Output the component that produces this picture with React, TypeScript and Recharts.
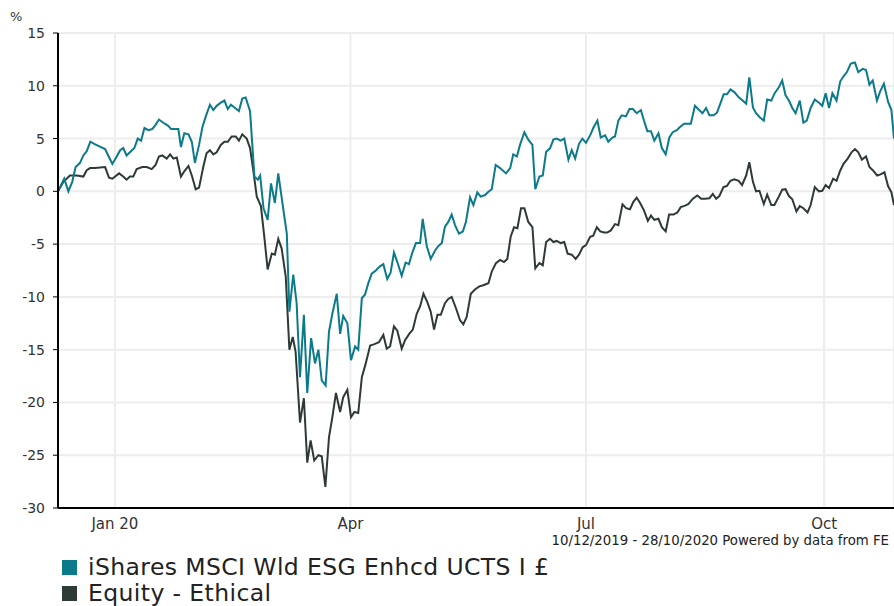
import React from "react";
import { LineChart, Line, XAxis, YAxis, CartesianGrid } from "recharts";

// days since 10/12/2019
const fundDays = [
  0, 2.4, 4.0, 5.5, 6.8, 8.5, 9.8, 11.1, 12.5, 14.0, 15.6, 18.2, 19.4, 21.0, 22.7, 24.0, 25.2, 26.5, 28.2, 29.5,
  30.8, 32.1, 33.4, 34.9, 36.4, 37.7, 39.0, 40.7, 42.6, 43.7, 45.5, 46.5, 47.5, 48.8, 50.4, 51.7, 52.9, 54.5, 55.8, 57.1,
  58.7, 60.0, 61.3, 62.9, 64.3, 65.6, 66.8, 68.4, 69.9, 71.2, 72.5, 74.2, 75.9, 77.2, 78.1, 79.4, 81.0, 82.3, 83.8, 85.1,
  86.7, 88.4, 89.4, 90.9, 92.2, 93.5, 95.0, 96.3, 97.8, 99.3, 100.6, 101.9, 103.4, 104.7, 106.0, 107.7, 109.0, 110.2, 111.8, 113.2,
  114.8, 116.0, 117.4, 118.6, 119.9, 121.2, 122.8, 124.4, 125.7, 127.2, 128.5, 129.8, 131.1, 132.8, 134.3, 135.6, 136.9, 138.3, 139.9, 140.9,
  142.5, 144.0, 145.7, 146.9, 148.3, 149.5, 150.8, 152.1, 153.4, 154.9, 156.4, 157.6, 159.2, 160.5, 162.0, 163.3, 165.0, 166.3, 167.6, 169.1,
  170.8, 173.1, 174.7, 175.9, 177.3, 178.5, 180.2, 181.7, 183.3, 184.4, 186.0, 187.3, 188.6, 190.1, 191.4, 192.7, 194.2, 195.6, 197.2, 198.5,
  199.8, 201.3, 202.6, 204.0, 205.6, 206.8, 208.4, 209.7, 211.4, 212.6, 214.2, 215.2, 216.5, 217.8, 219.4, 220.8, 222.1, 223.6, 225.2, 226.4,
  227.7, 229.1, 230.4, 232.0, 233.3, 234.8, 236.2, 237.5, 239.1, 240.3, 241.9, 243.2, 244.5, 246.1, 247.7, 249.0, 250.4, 251.7, 253.3, 254.6,
  255.9, 257.2, 258.5, 259.8, 261.3, 263.0, 264.3, 265.9, 267.1, 268.5, 269.7, 271.2, 272.7, 274.0, 275.6, 276.9, 278.5, 279.8, 281.1, 282.4,
  283.7, 285.0, 286.6, 288.0, 289.3, 290.8, 292.4, 294.0, 295.3, 296.6, 297.9, 299.2, 300.8, 302.2, 303.5, 304.8, 306.3, 307.9, 309.2, 310.9,
  312.2, 313.5, 314.8, 316.4, 317.7, 319.1, 320.7, 322.0, 323,
];
const fundValues = [
  0.0, 1.2, 0.0, 0.9, 2.3, 2.7, 3.4, 3.8, 4.7, 4.5, 4.3, 4.0, 3.4, 2.6, 3.3, 3.9, 4.1, 3.4, 3.8, 4.1,
  5.0, 4.8, 6.0, 5.8, 5.9, 6.3, 6.8, 6.5, 6.2, 5.9, 5.9, 5.9, 4.2, 5.5, 5.4, 4.7, 2.7, 4.4, 6.1, 7.1,
  8.2, 7.7, 8.1, 8.4, 8.6, 7.8, 8.2, 7.9, 7.6, 8.8, 8.9, 7.6, 1.4, 1.1, 1.5, -1.6, -2.7, 0.75, -1.1, 1.7,
  -1.1, -4.0, -11.4, -7.9, -10.6, -17.6, -11.7, -19.1, -13.9, -16.3, -15.0, -17.9, -18.4, -13.3, -11.6, -9.7, -13.5, -11.8, -12.5, -16.0,
  -14.7, -15.0, -10.1, -9.8, -8.7, -7.8, -7.5, -7.1, -6.9, -8.3, -7.7, -5.8, -6.7, -8.0, -6.75, -6.9, -5.8, -4.9, -4.9, -2.6,
  -5.2, -6.4, -5.6, -5.2, -4.9, -3.35, -2.9, -2.2, -3.2, -4.0, -3.8, -2.9, -0.57, -1.3, -0.1, -0.5, -0.35, -0.04, 0.2, 2.5,
  2.2, 1.7, 2.2, 3.5, 3.3, 4.4, 5.6, 4.9, 4.4, 0.2, 1.4, 1.5, 3.75, 4.07, 4.9, 5.0, 4.8, 5.0, 3.0, 3.9,
  3.1, 4.5, 5.0, 4.6, 5.3, 6.0, 6.7, 5.1, 5.3, 4.7, 5.1, 5.2, 6.7, 7.2, 7.1, 7.8, 7.8, 7.4, 7.7, 6.7,
  5.7, 5.7, 4.8, 5.5, 4.1, 3.5, 5.1, 5.6, 5.8, 6.1, 6.4, 6.4, 6.4, 8.1, 7.7, 7.4, 7.9, 7.2, 7.2, 7.45,
  8.3, 9.2, 9.2, 9.65, 9.4, 8.9, 8.65, 8.3, 10.8, 7.95, 7.4, 7.0, 6.7, 8.7, 8.6, 9.3, 9.85, 10.5, 9.1, 8.6,
  7.9, 7.4, 8.6, 6.5, 6.7, 7.9, 8.7, 8.4, 8.1, 9.3, 7.9, 9.3, 8.6, 10.4, 10.9, 11.3, 12.1, 12.2, 11.3, 11.6,
  11.5, 10.1, 10.5, 8.6, 9.5, 10.2, 8.5, 7.7, 5.0,
];

const sectorDays = [
  0, 2.1, 4.6, 7.2, 9.8, 11.1, 12.4, 14.3, 18.2, 19.7, 21.0, 23.6, 25.2, 26.5, 27.8, 29.1, 30.4, 32.6, 34.3, 36.2,
  37.7, 39.0, 40.3, 42.0, 43.3, 44.6, 45.9, 47.5, 48.8, 50.4, 51.7, 53.2, 54.5, 56.2, 57.4, 58.7, 60.0, 61.3, 62.9, 64.3,
  65.6, 67.1, 68.7, 69.9, 71.2, 72.9, 74.2, 75.5, 76.8, 78.4, 79.7, 81.0, 82.6, 83.8, 85.1, 86.4, 88.0, 89.4, 90.7, 91.8,
  93.5, 95.0, 96.3, 97.6, 99.0, 100.6, 101.9, 103.3, 104.7, 106.0, 107.4, 109.0, 110.2, 111.8, 113.2, 114.5, 116.0, 117.4, 118.9, 120.6,
  122.0, 124.0, 125.7, 127.0, 128.3, 129.8, 131.1, 132.8, 134.1, 135.7, 137.1, 138.6, 139.9, 141.2, 142.7, 144.0, 145.3, 146.6, 147.9, 149.5,
  150.8, 152.1, 153.8, 155.3, 156.6, 157.9, 159.5, 161.1, 162.8, 164.3, 166.3, 167.6, 169.2, 170.8, 172.3, 173.6, 174.9, 176.2, 177.5, 178.9,
  180.2, 181.7, 183.3, 184.4, 186.0, 187.3, 188.6, 190.1, 191.4, 192.7, 194.2, 195.6, 196.9, 198.5, 200.0, 201.3, 202.7, 204.0, 205.6, 206.8,
  208.2, 209.5, 211.0, 212.2, 213.6, 215.2, 216.5, 218.1, 219.5, 221.0, 222.3, 223.6, 224.9, 226.4, 227.9, 229.1, 230.4, 232.0, 233.3, 234.8,
  236.1, 237.8, 239.3, 240.6, 242.3, 243.6, 245.3, 247.0, 248.5, 250.0, 251.7, 253.0, 254.3, 255.5, 257.1, 258.4, 259.8, 261.3, 263.0, 264.3,
  265.9, 267.1, 268.5, 269.7, 271.0, 272.7, 274.0, 275.6, 276.8, 278.5, 279.8, 281.1, 282.4, 283.7, 285.3, 286.6, 288.0, 289.6, 290.8, 292.4,
  294.0, 295.3, 296.6, 297.9, 299.5, 300.8, 302.2, 303.5, 305.1, 306.6, 307.9, 309.2, 310.6, 312.2, 313.5, 314.8, 316.5, 317.8, 319.3, 320.7,
  322.0, 323,
];
const sectorValues = [
  0.0, 0.9, 1.5, 1.5, 1.4, 2.0, 2.2, 2.2, 2.3, 1.3, 1.2, 1.7, 1.4, 1.1, 1.4, 1.4, 2.1, 2.3, 2.3, 2.1,
  2.5, 3.3, 3.4, 3.1, 3.5, 3.1, 3.2, 1.4, 1.9, 2.4, 1.5, 0.2, 0.35, 2.4, 3.6, 3.9, 3.5, 3.7, 4.4, 4.7,
  4.7, 5.2, 5.2, 4.8, 5.4, 5.0, 4.1, 1.9, -0.5, -1.4, -4.3, -7.4, -5.9, -6.0, -4.5, -5.4, -8.1, -15.0, -13.8, -15.2,
  -21.9, -19.6, -25.7, -23.6, -25.5, -25.0, -25.1, -28.0, -23.3, -21.4, -19.1, -20.9, -19.5, -18.8, -21.4, -20.9, -21.0, -17.6, -16.3, -14.6,
  -14.5, -14.3, -13.6, -14.9, -14.7, -12.8, -13.2, -14.9, -14.1, -13.5, -13.1, -11.6, -10.9, -9.7, -10.5, -11.4, -13.1, -11.7, -11.7, -10.6,
  -10.2, -10.0, -11.1, -12.2, -12.6, -11.9, -9.7, -9.3, -9.0, -8.9, -8.7, -7.6, -6.8, -6.5, -6.7, -6.4, -4.3, -3.4, -3.5, -1.6,
  -1.6, -2.9, -3.4, -7.3, -6.8, -7.0, -4.8, -4.5, -4.8, -4.7, -4.9, -4.8, -5.9, -6.0, -6.4, -6.0, -5.3, -5.1, -4.3, -4.2,
  -3.4, -3.8, -3.9, -3.9, -3.7, -3.1, -3.2, -1.23, -1.6, -1.7, -1.0, -0.6, -1.1, -1.8, -2.8, -2.3, -2.7, -2.6, -3.4, -3.8,
  -2.2, -2.2, -2.0, -1.5, -1.35, -1.2, -0.7, -0.4, -0.7, -0.7, -0.65, -0.25, -0.7, -0.45, 0.4, 0.5, 1.0, 1.13, 1.0, 0.6,
  1.5, 2.75, 0.9, 0.0, 0.05, -1.2, -0.3, -1.3, -1.3, -0.5, 0.15, 0.2, -0.45, -0.75, -1.9, -1.4, -1.6, -2.0, -1.3, 0.4,
  0.0, 0.05, 0.6, 0.3, 1.2, 1.0, 1.95, 2.6, 3.1, 3.7, 4.0, 3.7, 3.0, 3.3, 2.3, 2.0, 1.5, 1.6, 1.8, 0.5,
  -0.1, -1.3,
];

const xTickDays = [22, 113, 204, 296];
const xTickLabels = ["Jan 20", "Apr", "Jul", "Oct"];
const yTicks = [-30, -25, -20, -15, -10, -5, 0, 5, 10, 15];

const fundName = "iShares MSCI Wld ESG Enhcd UCTS I £";
const sectorName = "Equity - Ethical";
const fundColor = "#0b7a8b";
const sectorColor = "#2e3a36";

const fundData = fundDays.map((d, i) => ({ day: d, value: fundValues[i] }));
const sectorData = sectorDays.map((d, i) => ({ day: d, value: sectorValues[i] }));

const font = "'DejaVu Sans', Verdana, sans-serif";

export default function App() {
  return (
    <div
      style={{
        position: "absolute",
        left: 0,
        top: 0,
        width: 894,
        height: 606,
        overflow: "hidden",
        background: "#fff",
        fontFamily: font,
      }}
    >
      <div style={{ position: "absolute", left: 10, top: 9, fontSize: 13, color: "#333" }}>%</div>
      <LineChart
        width={894}
        height={545}
        margin={{ top: 33, right: 0, bottom: 0, left: 0 }}
        style={{ fontFamily: font }}
      >
        <CartesianGrid stroke="#ededed" strokeWidth={2} />
        <XAxis
          dataKey="day"
          type="number"
          domain={[0, 323]}
          ticks={xTickDays}
          tickFormatter={(v) => xTickLabels[xTickDays.indexOf(v)] ?? ""}
          allowDuplicatedCategory={false}
          axisLine={{ stroke: "#000", strokeWidth: 2 }}
          tickLine={false}
          tickSize={6}
          tickMargin={4}
          height={37}
          tick={{ fill: "#333", fontSize: 15 }}
        />
        <YAxis
          type="number"
          domain={[-30, 15]}
          ticks={yTicks}
          width={58}
          axisLine={{ stroke: "#000", strokeWidth: 2 }}
          tickLine={{ stroke: "#000" }}
          tickSize={5}
          tickMargin={8}
          tick={{ fill: "#333", fontSize: 14 }}
          interval={0}
        />
        <Line
          data={sectorData}
          dataKey="value"
          name={sectorName}
          stroke={sectorColor}
          strokeWidth={2}
          dot={false}
          isAnimationActive={false}
        />
        <Line
          data={fundData}
          dataKey="value"
          name={fundName}
          stroke={fundColor}
          strokeWidth={2}
          dot={false}
          isAnimationActive={false}
        />
      </LineChart>
      <div style={{ position: "absolute", right: 5, top: 533, fontSize: 13.3, color: "#222" }}>
        10/12/2019 - 28/10/2020 Powered by data from FE
      </div>
      {[
        { name: fundName, color: fundColor },
        { name: sectorName, color: sectorColor },
      ].map((item, i) => (
        <div
          key={item.name}
          style={{
            position: "absolute",
            left: 62,
            top: 554 + i * 26,
            height: 26,
            lineHeight: "26px",
            display: "flex",
            alignItems: "center",
            fontSize: 23.5,
            letterSpacing: 0.4,
            color: "#222",
            whiteSpace: "nowrap",
          }}
        >
          <span style={{ display: "inline-block", width: 15, height: 15, background: item.color, marginRight: 11 }} />
          <span>{item.name}</span>
        </div>
      ))}
    </div>
  );
}
